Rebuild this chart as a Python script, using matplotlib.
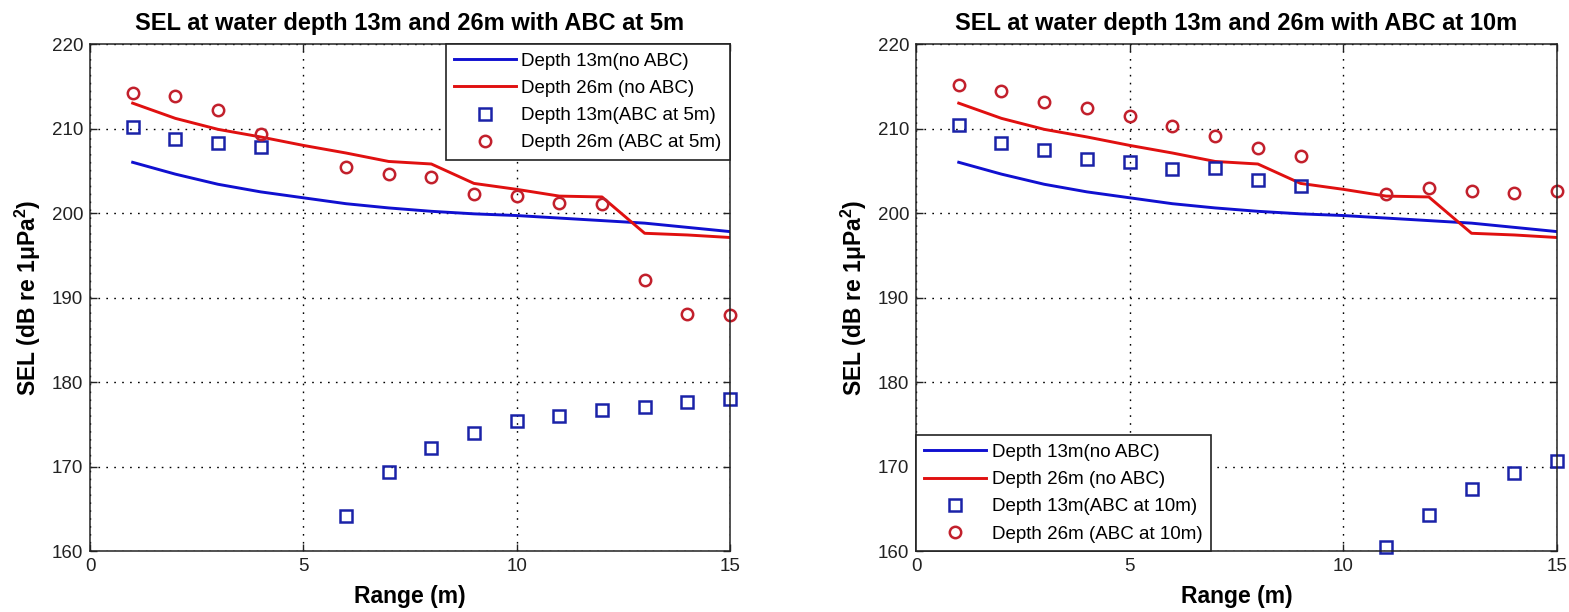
import numpy as np
import matplotlib
matplotlib.use("Agg")
import matplotlib.pyplot as plt

plt.rcParams['font.family'] = ['Liberation Sans', 'DejaVu Sans']
plt.rcParams['mathtext.fontset'] = 'custom'
plt.rcParams['mathtext.rm'] = 'Liberation Sans'
plt.rcParams['mathtext.bf'] = 'Liberation Sans:bold'

# ---------------- data ----------------
range_m = [1, 2, 3, 4, 5, 6, 7, 8, 9, 10, 11, 12, 13, 14, 15]

sel_13m_noabc = [206.0, 204.6, 203.4, 202.5, 201.8, 201.1, 200.6, 200.2, 199.9,
                 199.7, 199.4, 199.1, 198.8, 198.3, 197.8]
sel_26m_noabc = [213.0, 211.2, 209.9, 209.0, 208.0, 207.1, 206.1, 205.8, 203.5,
                 202.8, 202.0, 201.9, 197.6, 197.4, 197.1]

nan = float('nan')
sel_13m_abc5 = [210.2, 208.7, 208.3, 207.8, nan, 164.2, 169.4, 172.2, 174.0,
                175.35, 176.0, 176.7, 177.1, 177.6, 178.0]
sel_26m_abc5 = [214.2, 213.9, 212.2, 209.3, nan, 205.5, 204.6, 204.3, 202.3,
                202.0, 201.2, 201.05, 192.1, 188.05, 187.9]

sel_13m_abc10 = [210.4, 208.3, 207.4, 206.4, 206.05, 205.2, 205.3, 203.9, 203.2,
                 nan, 160.5, 164.25, 167.3, 169.25, 170.6]
sel_26m_abc10 = [215.1, 214.4, 213.1, 212.4, 211.5, 210.3, 209.1, 207.7, 206.8,
                 nan, 202.3, 202.9, 202.6, 202.4, 202.6]

titles = ["SEL at water depth 13m and 26m with ABC at 5m",
          "SEL at water depth 13m and 26m with ABC at 10m"]
labels_lines = ["Depth 13m(no ABC)", "Depth 26m (no ABC)"]
labels_abc = [["Depth 13m(ABC at 5m)", "Depth 26m (ABC at 5m)"],
              ["Depth 13m(ABC at 10m)", "Depth 26m (ABC at 10m)"]]
xticks = [0, 5, 10, 15]
yticks = [160, 170, 180, 190, 200, 210, 220]

# ---------------- figure ----------------
W, H = 1569, 612
fig = plt.figure(figsize=(W / 100, H / 100), dpi=100)

axes_px = [(90, 44, 730, 551), (916, 44, 1557, 551)]
ylabel_x = [43, 869]
legend_loc = ['upper right', 'lower left']
scatter_sets = [(sel_13m_abc5, sel_26m_abc5), (sel_13m_abc10, sel_26m_abc10)]

blue_line = '#1010d0'
red_line = '#e01010'
blue_mk = '#1a22a8'
red_mk = '#c2202c'

for i in range(2):
    l, t, r, b = axes_px[i]
    ax = fig.add_axes([l / W, 1 - b / H, (r - l) / W, (b - t) / H])
    ax.plot(range_m, sel_13m_noabc, color=blue_line, lw=2.1, label=labels_lines[0])
    ax.plot(range_m, sel_26m_noabc, color=red_line, lw=2.1, label=labels_lines[1])
    sq, ci = scatter_sets[i]
    ax.plot(range_m, sq, ls='none', marker='s', ms=9.2, mfc='none', mec=blue_mk,
            mew=1.8, label=labels_abc[i][0], clip_on=False)
    ax.plot(range_m, ci, ls='none', marker='o', ms=8.2, mfc='none', mec=red_mk,
            mew=1.8, label=labels_abc[i][1], clip_on=False)

    ax.set_xlim(0, 15)
    ax.set_ylim(160, 220)
    ax.set_xticks(xticks)
    ax.set_yticks(yticks)
    ax.tick_params(direction='in', length=5, width=1, top=True, right=True,
                   labelsize=13.5, pad=5, colors='#222222')
    ax.grid(True, color='black', linestyle=(0, (1.2, 4.5)), lw=1.0)
    for s in ax.spines.values():
        s.set_linewidth(1.1)
        s.set_color('#222222')

    ax.set_title(titles[i], fontsize=17, fontweight='bold', pad=10)
    ax.set_xlabel('Range (m)', fontsize=16.5, fontweight='bold', labelpad=7)
    ax.set_ylabel(r'SEL (dB re 1μPa$^\mathbf{2}$)', fontsize=16.5, fontweight='bold')
    ax.yaxis.set_label_coords((ylabel_x[i] - l) / (r - l), 0.5)

    leg = ax.legend(loc=legend_loc[i], fontsize=13.5, borderaxespad=0,
                    fancybox=False, framealpha=1, edgecolor='#222222',
                    handlelength=3.3, handletextpad=0.28, labelspacing=0.54,
                    borderpad=0.45)
    leg.get_frame().set_linewidth(1.2)

fig.savefig('out.png', dpi=100)
